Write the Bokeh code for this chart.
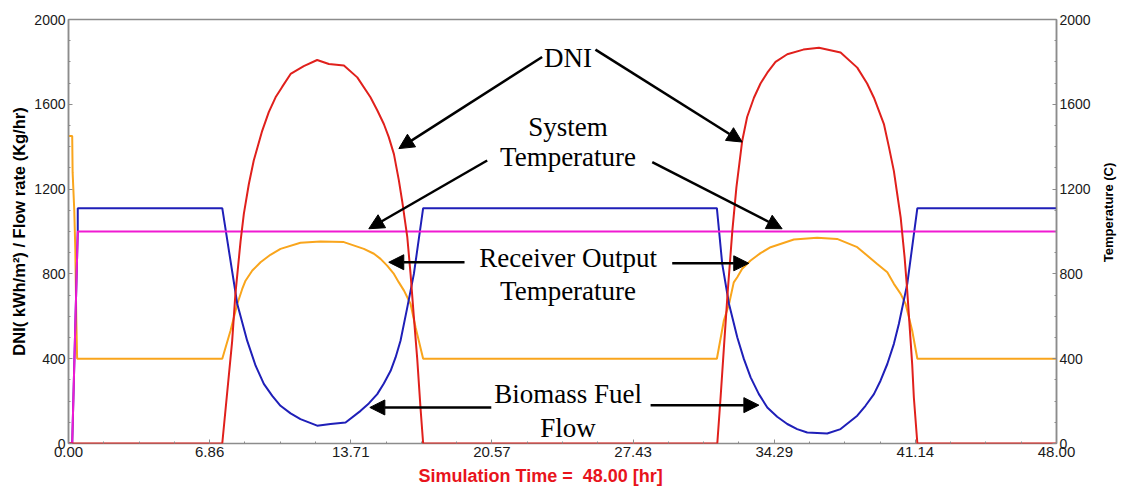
from math import pi

from bokeh.plotting import figure
from bokeh.models import (Range1d, LinearAxis, FixedTicker, NumeralTickFormatter,
                          Arrow, NormalHead, Title, Label, ColumnDataSource)
from bokeh.core.properties import value
from bokeh.embed import file_html
from bokeh.resources import INLINE

# ---- simulation results (time in hours) ----
dni_time = [0, 7.47, 7.95, 8.11, 8.36, 8.52, 8.76, 9.00, 9.41, 9.73, 10.06, 10.38, 10.79, 11.43,
            12.08, 12.65, 13.38, 14.03, 14.67, 15.00, 15.32, 15.56, 15.81, 16.05, 16.21, 16.46,
            16.62, 16.78, 16.94, 17.10, 17.23,
            31.52, 31.68, 31.84, 32.03, 32.25, 32.45, 32.73, 32.97, 33.30, 33.62, 33.95, 34.35,
            34.92, 35.70, 36.46, 37.51, 38.32, 38.80, 39.13, 39.62, 39.86, 40.10, 40.26, 40.43,
            40.62, 40.75, 40.99, 41.07, 41.24, 48]
dni_value = [0, 0, 482, 707, 955, 1084, 1223, 1335, 1475, 1563, 1633, 1682, 1743, 1780,
             1809, 1790, 1783, 1727, 1633, 1572, 1507, 1445, 1365, 1241, 1144, 973,
             798, 595, 403, 170, 0,
             0, 217, 450, 721, 1002, 1209, 1427, 1540, 1631, 1698, 1749, 1800,
             1836, 1858, 1867, 1844, 1773, 1698, 1631, 1505, 1398, 1285, 1178, 1065,
             879, 718, 372, 217, 0, 0]

fuel_time = [0, 0.18, 0.45, 0.45,
             7.47, 8.20, 8.68, 9.09, 9.49, 9.90, 10.30, 10.79, 11.27, 12.08, 12.73, 13.46,
             14.19, 14.59, 15.00, 15.32, 15.65, 15.89, 16.13, 16.46, 16.78, 17.23,
             31.50, 31.76, 32.09, 32.49, 32.81, 33.14, 33.54, 33.95, 34.43, 34.92, 35.40, 35.89,
             36.86, 37.51, 38.32, 38.72, 39.13, 39.45, 39.78, 40.10, 40.34, 40.75, 41.24, 48]
fuel_flow = [0, 0, 1000, 1110,
             1110, 658, 485, 367, 281, 225, 178, 142, 115, 84, 92, 99,
             154, 189, 233, 283, 343, 406, 485, 642, 800, 1110,
             1110, 847, 658, 501, 399, 312, 233, 170, 126, 92, 68, 52,
             47, 68, 131, 178, 233, 296, 375, 470, 564, 753, 1110, 1110]

receiver_time = [0, 0.18, 0.20, 0.28, 0.33, 0.38, 0.42,
                 7.47, 7.87, 8.20, 8.44, 8.60, 8.93, 9.33, 9.81, 10.30, 11.27, 12.24, 13.38,
                 14.35, 14.84, 15.16, 15.48, 15.81, 16.05, 16.30, 16.46, 16.62, 16.86, 17.23,
                 31.50, 31.84, 32.09, 32.32, 32.49, 32.73, 33.14, 33.62, 34.11, 35.24, 36.37,
                 37.34, 38.32, 39.29, 39.78, 40.10, 40.43, 40.67, 40.99, 41.24, 48]
receiver_temp = [1450, 1450, 1280, 1100, 920, 580, 400,
                 400, 532, 658, 729, 768, 816, 855, 890, 918, 947, 953, 950,
                 918, 895, 871, 839, 800, 760, 721, 690, 658, 548, 400,
                 400, 580, 658, 760, 784, 824, 863, 898, 926, 962, 970,
                 965, 926, 847, 808, 753, 706, 658, 532, 400, 400]

system_time = [0, 0.18, 0.45, 48]
system_temp = [0, 0, 1000, 1000]

x_ticks = [0, 48 / 7, 96 / 7, 144 / 7, 192 / 7, 240 / 7, 288 / 7, 48]
y_ticks = [0, 400, 800, 1200, 1600, 2000]

# ---- call-out texts and arrows ----
callout_text = ["DNI", "System", "Temperature", "Receiver Output", "Temperature",
                "Biomass Fuel", "Flow"]
callout_x = [24.27] * 7
callout_y = [1817, 1491, 1350, 877, 721, 235, 74]

arrow_start = [(23.01, 1823), (25.60, 1858), (20.34, 1335), (28.36, 1327),
               (19.24, 855), (29.33, 850), (20.54, 170), (28.28, 181)]
arrow_end = [(16.05, 1391), (32.73, 1422), (14.59, 1013), (34.67, 1013),
             (15.56, 855), (33.05, 850), (14.64, 170), (33.54, 181)]

AXIS_GRAY = "#8c8c8c"
SANS = "Liberation Sans"

p = figure(width=1121, height=491, output_backend="svg", toolbar_location=None,
           x_range=Range1d(0, 48), y_range=Range1d(0, 2000),
           min_border_left=68, min_border_right=65, min_border_top=19, min_border_bottom=48)
p.extra_y_ranges = {"temp": Range1d(0, 2000)}
temp_axis = LinearAxis(y_range_name="temp")
p.add_layout(temp_axis, "right")

p.xgrid.visible = False
p.ygrid.visible = False
p.outline_line_color = AXIS_GRAY
p.outline_line_width = 1.5
p.background_fill_color = "white"
p.border_fill_color = "white"

minor_x = [i * 48 / 28 for i in range(29)]
minor_y = list(range(0, 2001, 100))
p.xaxis.ticker = FixedTicker(ticks=x_ticks, minor_ticks=minor_x)
p.xaxis.formatter = NumeralTickFormatter(format="0.00")
for ax in p.yaxis:
    ax.ticker = FixedTicker(ticks=y_ticks, minor_ticks=minor_y)

for ax in p.axis:
    ax.axis_line_color = AXIS_GRAY
    ax.axis_line_width = 1.5
    ax.major_tick_in = 4
    ax.major_tick_out = 0
    ax.minor_tick_in = 2
    ax.minor_tick_out = 0
    ax.major_tick_line_color = AXIS_GRAY
    ax.minor_tick_line_color = AXIS_GRAY
    ax.major_label_text_font = SANS
    ax.major_label_text_font_size = "14px"
    ax.major_label_text_color = "#1a1a1a"
    ax.major_label_standoff = 3
    ax.axis_label_text_font = SANS
    ax.axis_label_text_font_style = "bold"
    ax.axis_label_text_color = "black"
p.xaxis.axis_line_color = None
p.xaxis.major_label_text_font_size = "15px"

p.yaxis[0].axis_label = "DNI( kWh/m²) / Flow rate (Kg/hr)"
p.yaxis[0].axis_label_text_font_size = "16.5px"
p.yaxis[0].axis_label_standoff = 3

# right-hand title, reading bottom to top, sitting a little above mid-height
p.add_layout(Label(x=50.53, y=1090, text="Temperature (C)", angle=pi / 2,
                   text_font=SANS, text_font_size="13px", text_font_style="bold",
                   text_align="center", text_baseline="middle", text_color="black"),
             "right")

# ---- series ----
p.line(receiver_time, receiver_temp, line_color="#f9a51c", line_width=2, y_range_name="temp")
p.line(fuel_time, fuel_flow, line_color="#1f1fb8", line_width=2)
p.line(system_time, system_temp, line_color="#f01ad2", line_width=2, y_range_name="temp")
p.line(dni_time, dni_value, line_color="#e0201c", line_width=2)

# ---- call-outs ----
callouts = ColumnDataSource(dict(x=callout_x, y=callout_y, text=callout_text))
p.text(x="x", y="y", text="text", source=callouts, text_font=value("Liberation Serif"),
       text_font_size="27px", text_align="center", text_baseline="alphabetic",
       text_color="black")

for (xs, ys), (xe, ye) in zip(arrow_start, arrow_end):
    p.add_layout(Arrow(end=NormalHead(size=15, fill_color="black", line_color="black"),
                       x_start=xs, y_start=ys, x_end=xe, y_end=ye,
                       line_color="black", line_width=2.5))

p.add_layout(Title(text="Simulation Time =\u00a0 48.00 [hr]", align="left", offset=350,
                   text_font=SANS, text_font_size="18px", text_font_style="bold",
                   text_color="#e8141c", standoff=8), "below")

open("out.html", "w").write(file_html(p, INLINE))
